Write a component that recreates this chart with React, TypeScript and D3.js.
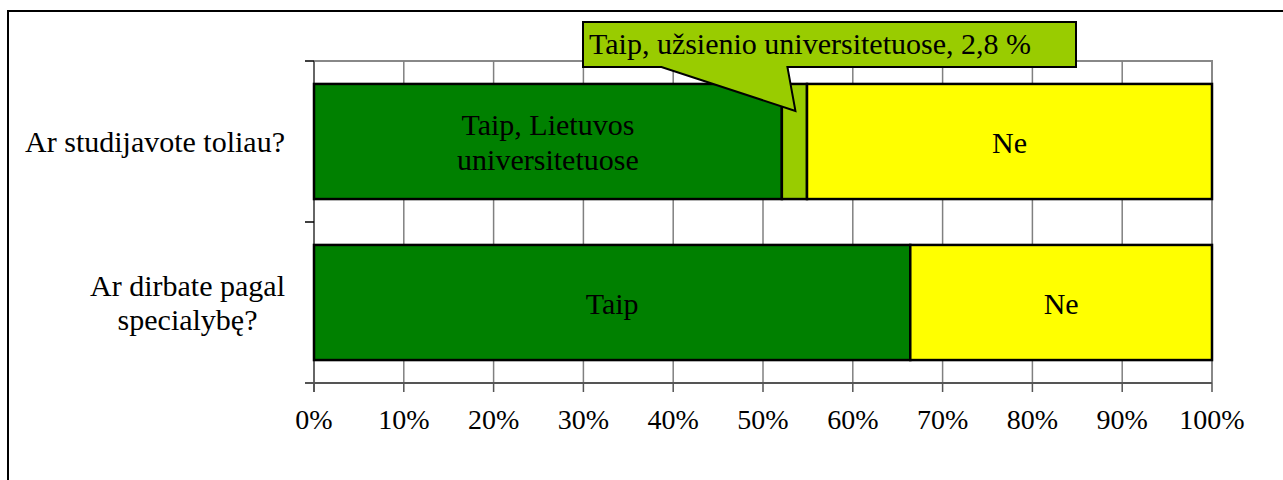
import { useEffect, useRef } from 'react';
import * as d3 from 'd3';

const categories = ['Ar studijavote toliau?', 'Ar dirbate pagal specialybę?'];
const categoryLines = [['Ar studijavote toliau?'], ['Ar dirbate pagal', 'specialybę?']];
const seriesKeys = ['taipLt', 'taipAbroad', 'ne'];
const seriesColors = ['#008000', '#99cc00', '#ffff00'];
// percent values per category, in order of seriesKeys
const taipLtValues = [52.1, 66.4];
const taipAbroadValues = [2.8, 0];
const neValues = [45.1, 33.6];
const segmentLabels = [
  [['Taip, Lietuvos', 'universitetuose'], [], ['Ne']],
  [['Taip'], [], ['Ne']],
];
const calloutText = 'Taip, užsienio universitetuose, 2,8 %';
const xTicks = [0, 10, 20, 30, 40, 50, 60, 70, 80, 90, 100];

const W = 1283;
const H = 480;
const FONT = '"Liberation Serif", "Times New Roman", serif';

export default function App() {
  const svgRef = useRef<SVGSVGElement>(null);

  useEffect(() => {
    if (!svgRef.current) return;
    const svg = d3.select(svgRef.current);
    svg.selectAll('*').remove();

    const left = 314, right = 1212, top = 61, bottom = 383;

    const rows = categories.map((c, i) => ({
      category: c,
      taipLt: taipLtValues[i],
      taipAbroad: taipAbroadValues[i],
      ne: neValues[i],
    }));

    const x = d3.scaleLinear().domain([0, 100]).range([left, right]);
    const y = d3.scaleBand<string>().domain(categories).range([top, bottom])
      .paddingInner(0.285).paddingOuter(0.1425);

    // outer frame
    svg.append('rect')
      .attr('x', 8).attr('y', 11).attr('width', W + 20).attr('height', H + 20)
      .attr('fill', 'white').attr('stroke', '#000').attr('stroke-width', 2);

    // plot area frame (top & right)
    svg.append('path')
      .attr('d', `M${left},${top}H${right}V${bottom}`)
      .attr('fill', 'none').attr('stroke', '#888').attr('stroke-width', 2);

    // gridlines
    svg.append('g').selectAll('line')
      .data(xTicks.slice(1, -1))
      .join('line')
      .attr('x1', d => x(d)).attr('x2', d => x(d))
      .attr('y1', top).attr('y2', bottom)
      .attr('stroke', '#808080').attr('stroke-width', 1.5);

    // left axis
    svg.append('line')
      .attr('x1', left).attr('x2', left).attr('y1', top).attr('y2', bottom + 9)
      .attr('stroke', '#666').attr('stroke-width', 2);

    // stacked bars
    const stacked = d3.stack<any>().keys(seriesKeys)(rows);
    stacked.forEach((layer, si) => {
      svg.append('g').selectAll('rect')
        .data(layer.filter(d => d[1] - d[0] > 0))
        .join('rect')
        .attr('x', d => x(d[0]))
        .attr('y', d => y(d.data.category)!)
        .attr('width', d => x(d[1]) - x(d[0]))
        .attr('height', y.bandwidth())
        .attr('fill', seriesColors[si])
        .attr('stroke', '#000')
        .attr('stroke-width', 2.5);
    });

    // segment labels
    stacked.forEach((layer, si) => {
      layer.forEach((d, ri) => {
        const lines = segmentLabels[ri][si];
        if (!lines.length) return;
        const cx = (x(d[0]) + x(d[1])) / 2;
        const cy = y(d.data.category)! + y.bandwidth() / 2;
        const t = svg.append('text')
          .attr('text-anchor', 'middle')
          .attr('font-family', FONT).attr('font-size', 30).attr('fill', '#000');
        lines.forEach((ln, li) => {
          t.append('tspan')
            .attr('x', cx)
            .attr('y', cy + (li - (lines.length - 1) / 2) * 34.5 + 11)
            .text(ln);
        });
      });
    });

    // y tick marks at band boundaries
    const yBounds = [top, ...categories.slice(1).map(c => y(c)! - y.step() * y.paddingInner() / 2), bottom];
    svg.append('g').selectAll('line')
      .data(yBounds)
      .join('line')
      .attr('x1', left - 9).attr('x2', left)
      .attr('y1', d => d).attr('y2', d => d)
      .attr('stroke', '#000').attr('stroke-width', 1.5);

    // bottom axis
    svg.append('line')
      .attr('x1', left - 9).attr('x2', right).attr('y1', bottom).attr('y2', bottom)
      .attr('stroke', '#555').attr('stroke-width', 2);
    svg.append('g').selectAll('line')
      .data(xTicks)
      .join('line')
      .attr('x1', d => x(d)).attr('x2', d => x(d))
      .attr('y1', bottom).attr('y2', bottom + 9)
      .attr('stroke', '#555').attr('stroke-width', 1.5);
    svg.append('g').selectAll('text')
      .data(xTicks)
      .join('text')
      .attr('x', d => x(d)).attr('y', bottom + 46)
      .attr('text-anchor', 'middle')
      .attr('font-family', FONT).attr('font-size', 28)
      .text(d => `${d}%`);

    // category labels: lines centred on each other, block right-aligned
    const labelRight = left - 29;
    categories.forEach((c, i) => {
      const lines = categoryLines[i];
      const cy = y(c)! + y.bandwidth() / 2;
      const t = svg.append('text')
        .attr('text-anchor', 'middle')
        .attr('font-family', FONT).attr('font-size', 30);
      const spans = lines.map((ln, li) =>
        t.append('tspan')
          .attr('y', cy + (li - (lines.length - 1) / 2) * 34 + 10)
          .text(ln));
      const maxW = d3.max(spans, s => (s.node() as SVGTSPanElement).getComputedTextLength()) || 0;
      spans.forEach(s => s.attr('x', labelRight - maxW / 2));
    });

    // callout for abroad segment
    const abroad = stacked[1][0];
    const tipX = (x(abroad[0]) + x(abroad[1])) / 2 + 1;
    const tipY = y(categories[0])! + 27;
    const bx0 = 583, bx1 = 1076, by0 = 22, by1 = 67;
    svg.append('path')
      .attr('d', `M${bx0},${by0}H${bx1}V${by1}H${tipX - 8}L${tipX},${tipY}L${tipX - 134},${by1}H${bx0}Z`)
      .attr('fill', '#99cc00').attr('stroke', '#000').attr('stroke-width', 2)
      .attr('stroke-linejoin', 'miter');
    svg.append('text')
      .attr('x', bx0 + 6).attr('y', by1 - 13)
      .attr('font-family', FONT).attr('font-size', 30)
      .text(calloutText);
  }, []);

  return (
    <svg
      ref={svgRef}
      width={W}
      height={H}
      style={{ position: 'absolute', left: 0, top: 0, background: 'white' }}
    />
  );
}
